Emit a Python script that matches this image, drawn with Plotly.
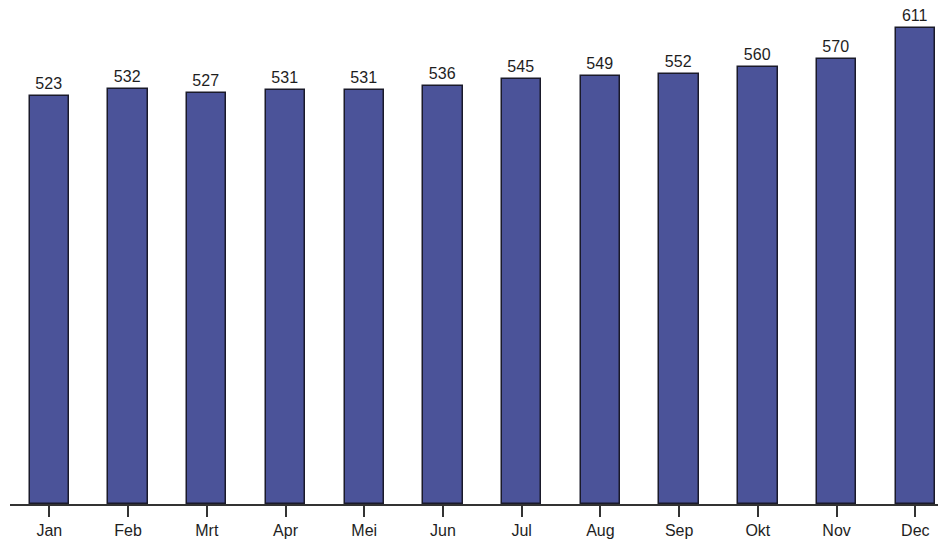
import plotly.graph_objects as go

months = ["Jan", "Feb", "Mrt", "Apr", "Mei", "Jun", "Jul", "Aug", "Sep", "Okt", "Nov", "Dec"]
values = [523, 532, 527, 531, 531, 536, 545, 549, 552, 560, 570, 611]

fig = go.Figure(go.Bar(
    x=list(range(len(months))),
    y=values,
    width=0.5,
    marker=dict(color="#4b5399", line=dict(color="#1a1a2a", width=1.5)),
    text=[str(v) for v in values],
    textposition="outside",
    cliponaxis=False,
    textfont=dict(family="Liberation Sans, Arial, sans-serif", size=16, color="#1e1e1e"),
))

fig.update_layout(
    width=938, height=535,
    margin=dict(l=2, r=0, t=0, b=39),
    paper_bgcolor="white", plot_bgcolor="white",
    showlegend=False,
    bargap=0,
)
fig.update_xaxes(
    tickmode="array", tickvals=list(range(len(months))), ticktext=months,
    range=[-0.50, 11.39],
    showline=True, linecolor="#333333", linewidth=1.5,
    ticks="outside", ticklen=11, tickwidth=1.5, tickcolor="#333333",
    tickfont=dict(family="Liberation Sans, Arial, sans-serif", size=16, color="#1e1e1e"),
    showgrid=False, zeroline=False,
)
fig.update_yaxes(range=[0, 636], visible=False, showgrid=False, zeroline=False)

fig.write_html("out.html")
